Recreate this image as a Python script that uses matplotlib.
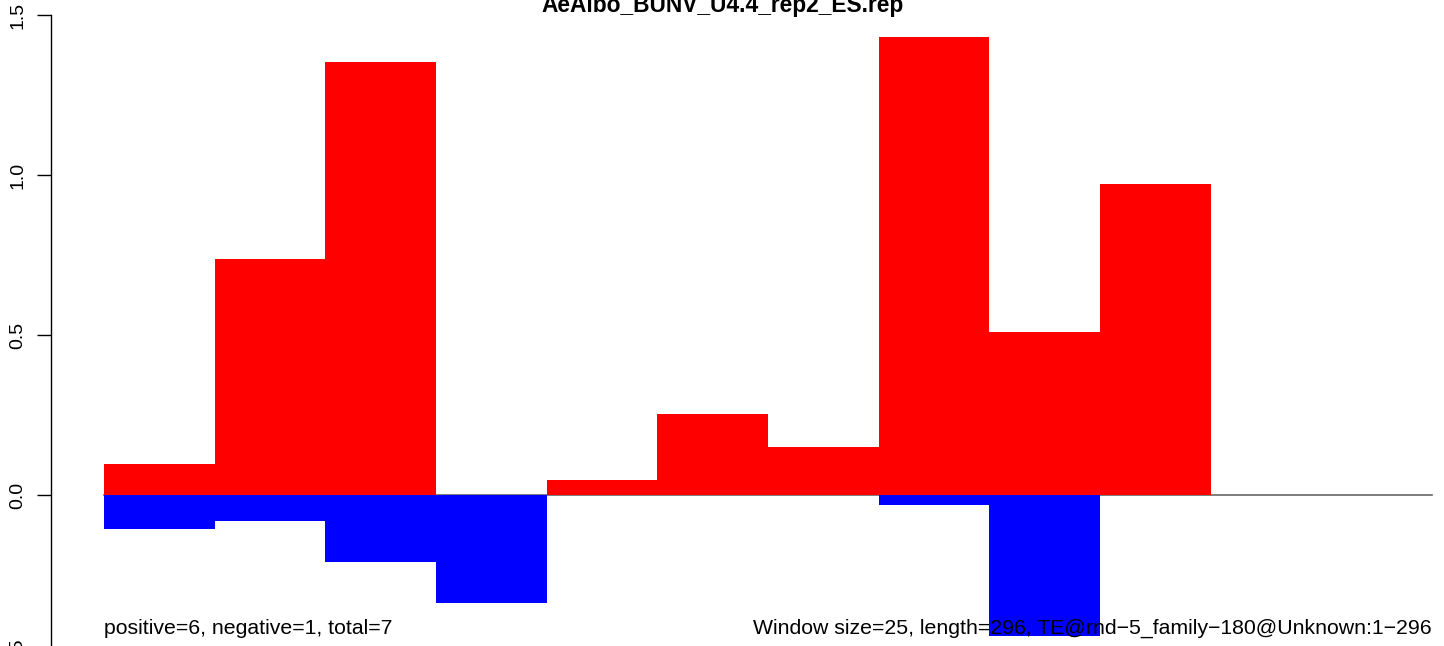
import matplotlib
matplotlib.use("Agg")
import matplotlib.pyplot as plt
import numpy as np

plt.rcParams['font.family'] = ['Liberation Sans', 'DejaVu Sans']

title = "AeAlbo_BUNV_U4.4_rep2_ES.rep"
windows = list(range(12))
pos_values = [0.098, 0.739, 1.353, 0.0, 0.048, 0.254, 0.151, 1.432, 0.508, 0.971, 0.0, 0.0]
neg_values = [-0.105, -0.080, -0.208, -0.336, 0.0, 0.0, 0.0, -0.030, -0.440, 0.0, 0.0, 0.0]
yticks = [-0.5, 0.0, 0.5, 1.0, 1.5]
ytick_labels = ["-0.5", "0.0", "0.5", "1.0", "1.5"]
left_note = "positive=6, negative=1, total=7"
right_note = "Window size=25, length=296, TE@rnd\u22125_family\u2212180@Unknown:1\u2212296"

W, H = 1444, 646
fig = plt.figure(figsize=(W / 100, H / 100), dpi=100)

# axes spans beyond the figure (clipped like the reference)
x0_px, x1_px = 51, 1485
ytop_px, ybot_px = -10.6, 680.6
ax = fig.add_axes([x0_px / W, (H - ybot_px) / H, (x1_px - x0_px) / W, (ybot_px - ytop_px) / H])
n = len(windows)
ax.set_xlim(-0.04 * n, n * 1.04)
ax.set_ylim(-0.58, 1.58)

ax.plot([0, n], [0, 0], color='#666666', lw=1.2, zorder=1)
ax.bar(windows, pos_values, width=1.0, align='edge', color='#FF0000', lw=0, zorder=2)
ax.bar(windows, neg_values, width=1.0, align='edge', color='#0000FF', lw=0, zorder=2)

for s in ['top', 'right', 'bottom']:
    ax.spines[s].set_visible(False)
ax.spines['left'].set_bounds(-0.5, 1.5)
ax.spines['left'].set_linewidth(1.0)
ax.set_xticks([])
ax.set_yticks(yticks)
ax.set_yticklabels(ytick_labels, rotation=90, va='center', fontsize=14)
ax.tick_params(axis='y', length=10, width=1.0, pad=8)

ax.text(0, -0.435, left_note, ha='left', va='baseline', fontsize=15.3, zorder=3)
ax.text(n, -0.435, right_note, ha='right', va='baseline', fontsize=15.3, zorder=3)

fig.text(723 / W, (H - 12) / H, title, ha='center', va='baseline', fontsize=16.4, fontweight='bold')

fig.savefig("out.png", dpi=100)
